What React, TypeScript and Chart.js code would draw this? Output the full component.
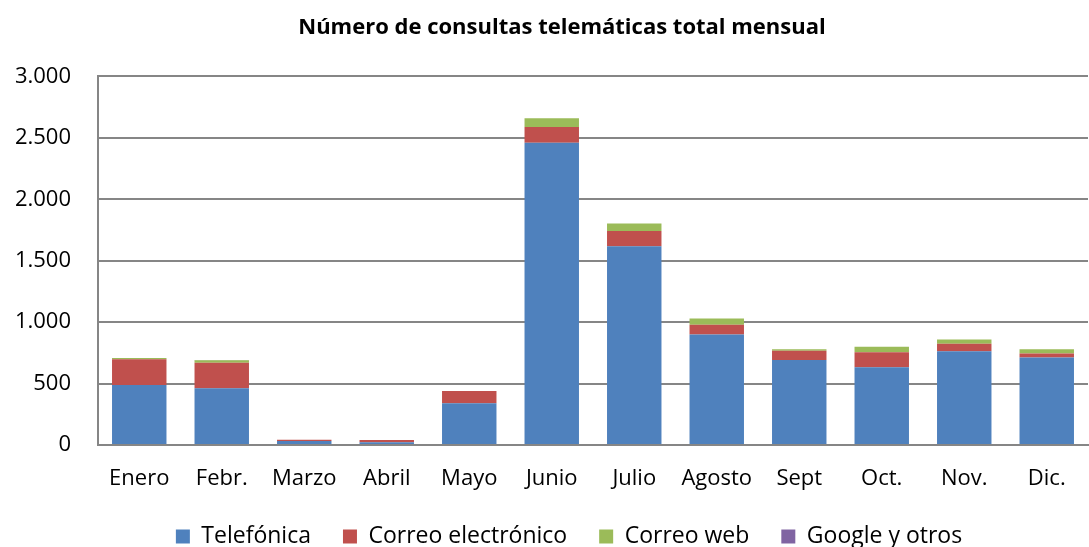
import React, { useEffect, useRef } from "react";
import { Chart, registerables } from "chart.js";

Chart.register(...registerables);

const categories = ["Enero", "Febr.", "Marzo", "Abril", "Mayo", "Junio", "Julio", "Agosto", "Sept", "Oct.", "Nov.", "Dic."];
const telefonica = [488, 461, 32, 22, 339, 2461, 1618, 900, 691, 632, 764, 713];
const correoElectronico = [210, 208, 11, 19, 100, 127, 124, 78, 76, 122, 60, 32];
const correoWeb = [10, 20, 0, 0, 0, 71, 60, 52, 13, 45, 35, 35];
const googleOtros = [0, 2, 0, 0, 0, 0, 0, 0, 0, 0, 0, 0];
const yTicks = [0, 500, 1000, 1500, 2000, 2500, 3000];

const FONT = "'Open Sans'";

const shiftBoxes = {
  id: "shiftBoxes",
  afterLayout(chart: any) {
    const t = chart.titleBlock;
    if (t) {
      t.left += 18;
      t.right += 18;
    }
    const l = chart.legend;
    if (l) {
      l.left += 25;
      l.right += 25;
    }
  },
};

export default function App() {
  const ref = useRef<HTMLCanvasElement | null>(null);
  useEffect(() => {
    if (!ref.current) return;
    const chart = new Chart(ref.current, {
      type: "bar",
      data: {
        labels: categories,
        datasets: [
          { label: "Telefónica", data: telefonica, backgroundColor: "#4F81BD" },
          { label: "Correo electrónico", data: correoElectronico, backgroundColor: "#C0504D" },
          { label: "Correo web", data: correoWeb, backgroundColor: "#9BBB59" },
          { label: "Google y otros", data: googleOtros, backgroundColor: "#8064A2" },
        ],
      },
      options: {
        responsive: false,
        animation: false,
        layout: { padding: { left: 0, right: 1, top: 0, bottom: -11 } },
        datasets: { bar: { barPercentage: 0.66, categoryPercentage: 1 } },
        plugins: {
          title: {
            display: true,
            text: "Número de consultas telemáticas total mensual",
            font: { family: FONT, size: 22, weight: "bold" },
            color: "#000",
            padding: { top: 15, bottom: 35 },
          },
          legend: {
            position: "bottom",
            labels: {
              font: { family: FONT, size: 23 },
              color: "#000",
              boxWidth: 14,
              boxHeight: 14,
              padding: 32,
            },
          },
          tooltip: { enabled: false },
        },
        scales: {
          x: {
            stacked: true,
            grid: { display: false, drawTicks: false },
            border: { color: "#868686", width: 2 },
            ticks: { font: { family: FONT, size: 22 }, color: "#000", padding: 21, maxRotation: 0 },
            afterFit: (scale: any) => {
              scale.height = 48;
              scale.paddingLeft = 0;
              scale.paddingRight = 0;
            },
          },
          y: {
            stacked: true,
            min: 0,
            max: 3000,
            afterBuildTicks: (axis: any) => {
              axis.ticks = yTicks.map((v) => ({ value: v }));
            },
            afterFit: (scale: any) => {
              scale.width = 98;
            },
            grid: { color: "#868686", lineWidth: 2, drawTicks: false },
            border: { color: "#868686", width: 2 },
            ticks: {
              font: { family: FONT, size: 22 },
              color: "#000",
              padding: 27,
              callback: (v: any) => Number(v).toLocaleString("de-DE"),
            },
          },
        },
      },
      plugins: [shiftBoxes],
    });
    return () => chart.destroy();
  }, []);
  return (
    <div style={{ position: "fixed", left: 0, top: 0, width: 1089, height: 547, background: "#fff" }}>
      <canvas ref={ref} width={1089} height={547} />
    </div>
  );
}
